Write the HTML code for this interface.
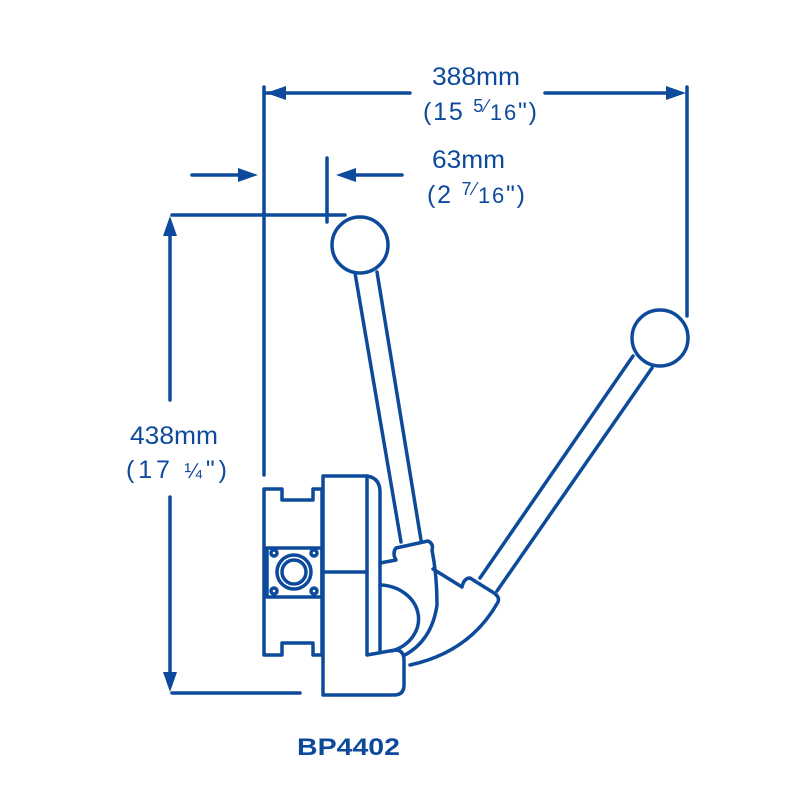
<!DOCTYPE html>
<html><head><meta charset="utf-8"><style>
html,body{margin:0;padding:0;background:#fff}
svg{display:block}
text{font-family:"Liberation Sans",sans-serif;fill:#0d4a9b}
</style></head><body>
<svg width="800" height="800" viewBox="0 0 800 800" xmlns="http://www.w3.org/2000/svg">
<g stroke="#0d4a9b" stroke-width="3.5" fill="none" stroke-linejoin="round" stroke-linecap="round">
<line x1="264" y1="87" x2="264" y2="475"/>
<line x1="264" y1="93" x2="410" y2="93"/>
<line x1="545" y1="93" x2="680" y2="93"/>
<line x1="687" y1="87" x2="687" y2="316"/>
<line x1="192" y1="175" x2="250" y2="175"/>
<line x1="343" y1="175" x2="402" y2="175"/>
<line x1="327" y1="158" x2="327" y2="222"/>
<line x1="172" y1="215" x2="345" y2="215"/>
<line x1="170" y1="222" x2="170" y2="400"/>
<line x1="170" y1="497" x2="170" y2="686"/>
<line x1="172" y1="693" x2="300" y2="693"/>
<circle cx="360" cy="245" r="28"/>
<circle cx="660" cy="338" r="28"/>
<line x1="355" y1="273" x2="401" y2="542"/>
<line x1="377" y1="272" x2="421" y2="540"/>
<line x1="633" y1="356" x2="480" y2="578"/>
<line x1="652" y1="368" x2="497" y2="591"/>
<path d="M264 489 H282 V500 H313 V489 H322 V655 H313 V643 H282 V655 H264 Z"/>
<rect x="267" y="548" width="55" height="49"/>
<circle cx="294" cy="572" r="17"/>
<circle cx="294" cy="572" r="12"/>
<circle cx="274" cy="553" r="3"/><circle cx="314" cy="553" r="3"/>
<circle cx="274" cy="591" r="3"/><circle cx="314" cy="591" r="3"/>
<path d="M323 476 H367 V655 L395 650 Q404 650 404 660 V685 Q404 695 394 695 H323 Z"/>
<line x1="323" y1="572" x2="367" y2="572"/>
<path d="M367 476 Q380 478 380 492 V650"/>
<path d="M380 585 A40 34 0 0 1 392 651"/>
<path d="M380 563 L396 560 Q392 553 396 548 L428 541 Q434 544 432 550 Q437 575 437 605 Q432 640 405 655"/>
<path d="M433 569 L462 587 Q464 578 470 578 L494 593 Q500 597 498 602 Q470 652 410 665"/>
</g>
<g fill="#0d4a9b">
<polygon points="266,93 286,86 286,100"/>
<polygon points="686,93 666,86 666,100"/>
<polygon points="258,175 238,168 238,182"/>
<polygon points="336,175 356,168 356,182"/>
<polygon points="170,216 163,236 177,236"/>
<polygon points="170,692 163,672 177,672"/>
</g>
<text x="432" y="85" font-size="25" textLength="88" lengthAdjust="spacingAndGlyphs">388mm</text>
<text x="423" y="120" font-size="25" textLength="114">(15 <tspan font-size="18" dy="-8">5</tspan><tspan font-size="18">⁄</tspan><tspan font-size="22" dy="8">16</tspan>")</text>
<text x="432" y="168" font-size="25" textLength="73" lengthAdjust="spacingAndGlyphs">63mm</text>
<text x="427" y="203" font-size="25" textLength="98">(2 <tspan font-size="18" dy="-8">7</tspan><tspan font-size="18">⁄</tspan><tspan font-size="22" dy="8">16</tspan>")</text>
<text x="130" y="444" font-size="25" textLength="88" lengthAdjust="spacingAndGlyphs">438mm</text>
<text x="126" y="478" font-size="25" textLength="101">(17 <tspan font-size="21">¼</tspan>")</text>
<text x="297" y="755" font-size="24" font-weight="bold" textLength="103" lengthAdjust="spacingAndGlyphs">BP4402</text>
</svg>
</body></html>
